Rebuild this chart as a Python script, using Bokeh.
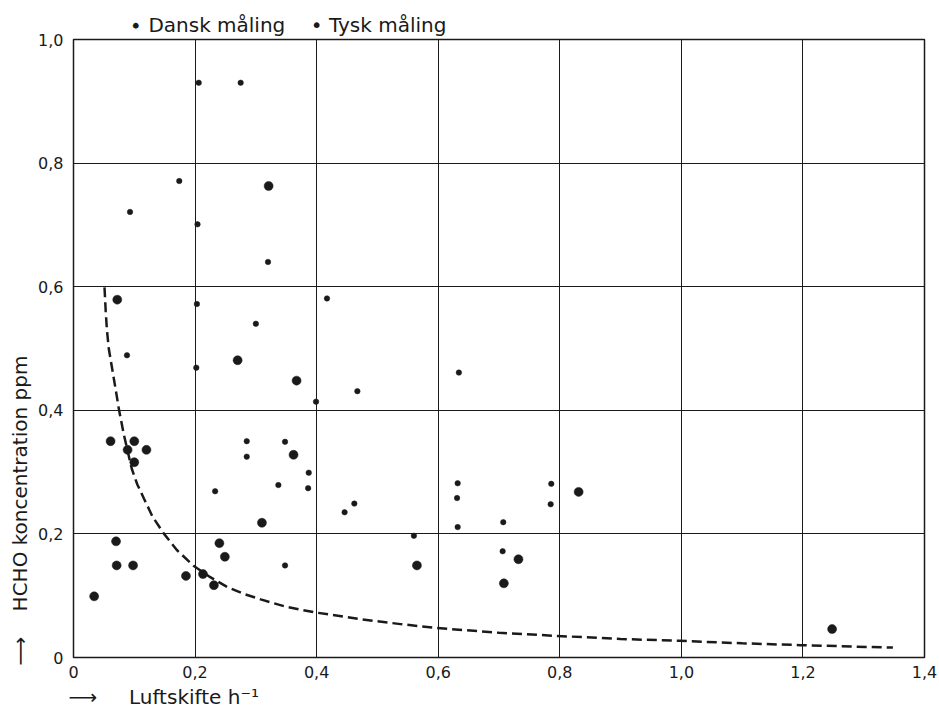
from bokeh.plotting import figure
from bokeh.models import Range1d, FixedTicker, Title
from bokeh.embed import file_html
from bokeh.resources import INLINE

# ---- data ----
dansk_x = [0.321, 0.072, 0.270, 0.367, 0.061, 0.100, 0.089, 0.120, 0.100, 0.362,
           0.310, 0.070, 0.071, 0.098, 0.034, 0.185, 0.213, 0.231, 0.240, 0.249,
           0.565, 0.732, 0.708, 0.831, 1.248]
dansk_y = [0.763, 0.579, 0.481, 0.448, 0.350, 0.350, 0.336, 0.336, 0.316, 0.328,
           0.218, 0.188, 0.149, 0.149, 0.099, 0.132, 0.135, 0.117, 0.185, 0.163,
           0.149, 0.159, 0.120, 0.268, 0.046]

tysk_x = [0.206, 0.275, 0.174, 0.093, 0.204, 0.320, 0.203, 0.417, 0.300, 0.088,
          0.202, 0.467, 0.399, 0.634, 0.285, 0.348, 0.285, 0.387, 0.337, 0.386,
          0.233, 0.462, 0.446, 0.348, 0.560, 0.632, 0.631, 0.632, 0.707, 0.706,
          0.786, 0.785]
tysk_y = [0.930, 0.930, 0.771, 0.721, 0.701, 0.640, 0.572, 0.581, 0.540, 0.489,
          0.469, 0.431, 0.414, 0.461, 0.350, 0.349, 0.325, 0.299, 0.279, 0.274,
          0.269, 0.249, 0.235, 0.149, 0.197, 0.282, 0.258, 0.211, 0.219, 0.172,
          0.281, 0.248]

# dashed reference curve
curve_x = [0.051, 0.053, 0.055, 0.058, 0.064, 0.070, 0.075, 0.083, 0.090, 0.096,
           0.105, 0.116, 0.130, 0.149, 0.170, 0.198, 0.225, 0.253, 0.280, 0.308,
           0.350, 0.397, 0.472, 0.538, 0.595, 0.700, 0.794, 0.900, 0.996, 1.100,
           1.196, 1.348]
curve_y = [0.599, 0.560, 0.530, 0.500, 0.465, 0.430, 0.400, 0.360, 0.330, 0.305,
           0.280, 0.257, 0.228, 0.200, 0.174, 0.148, 0.130, 0.114, 0.103, 0.094,
           0.082, 0.073, 0.062, 0.054, 0.048, 0.040, 0.035, 0.030, 0.027, 0.023,
           0.020, 0.016]

x_ticks = [0, 0.2, 0.4, 0.6, 0.8, 1.0, 1.2, 1.4]
x_tick_labels = ["0", "0,2", "0,4", "0,6", "0,8", "1,0", "1,2", "1,4"]
y_ticks = [0, 0.2, 0.4, 0.6, 0.8, 1.0]
y_tick_labels = ["0", "0,2", "0,4", "0,6", "0,8", "1,0"]

NB = "\u00a0"
series_labels = ["Dansk måling", "Tysk måling"]
legend_text = ("∙" + NB + series_labels[0] + NB * 4 + "•" + NB + series_labels[1])
x_label = "⟶" + NB * 5 + "Luftskifte h⁻¹"
y_label = "⟶" + NB * 4 + "HCHO koncentration ppm"

FONT = "DejaVu Sans"
INK = "#1a1a1a"

p = figure(width=939, height=712, output_backend="svg", toolbar_location=None,
           x_range=Range1d(0, 1.4), y_range=Range1d(0, 1.0),
           min_border_left=73, min_border_right=15, min_border_top=39,
           min_border_bottom=55, background_fill_color="white",
           border_fill_color="white")

p.outline_line_color = INK
p.outline_line_width = 1.5

for ax in (p.xaxis[0], p.yaxis[0]):
    ax.major_tick_line_color = None
    ax.minor_tick_line_color = None
    ax.major_tick_in = 0
    ax.major_tick_out = 0
    ax.axis_line_color = None
    ax.major_label_text_font = FONT
    ax.major_label_text_font_size = "16px"
    ax.major_label_text_color = INK

p.xaxis[0].ticker = FixedTicker(ticks=x_ticks)
p.xaxis[0].major_label_overrides = dict(zip(x_ticks, x_tick_labels))
p.xaxis[0].major_label_standoff = 8

p.yaxis[0].ticker = FixedTicker(ticks=y_ticks)
p.yaxis[0].major_label_overrides = dict(zip(y_ticks, y_tick_labels))
p.yaxis[0].major_label_standoff = 10

p.xgrid.grid_line_color = INK
p.ygrid.grid_line_color = INK
p.xgrid.grid_line_width = 1
p.ygrid.grid_line_width = 1

# dashed curve
p.line(curve_x, curve_y, line_color=INK, line_width=2.5, line_dash="10 5")

p.scatter(dansk_x, dansk_y, size=9, fill_color=INK, line_color=INK, line_width=0.5)
p.scatter(tysk_x, tysk_y, size=5.5, fill_color=INK, line_color=INK, line_width=0.5)


def side_title(text, **kw):
    return Title(text=text, align="left", text_font=FONT, text_font_size="20px",
                 text_font_style="normal", text_color=INK, **kw)


p.add_layout(side_title(legend_text, offset=56, standoff=6), "above")
p.add_layout(side_title(x_label, offset=-5, standoff=5), "below")
p.add_layout(side_title(y_label, offset=-8, standoff=8), "left")

open("out.html", "w").write(file_html(p, INLINE))
